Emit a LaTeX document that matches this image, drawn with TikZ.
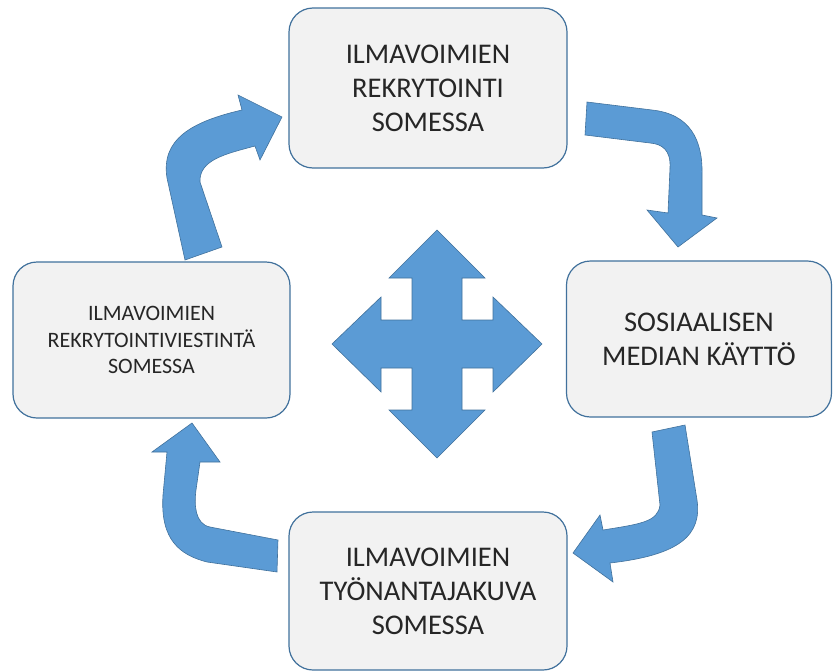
\documentclass[tikz,border=0pt]{standalone}
\usepackage{fontspec}
\setmainfont{Carlito}
\usetikzlibrary{positioning}
\definecolor{boxfill}{HTML}{F2F2F2}
\definecolor{boxline}{HTML}{41719C}
\definecolor{arrowfill}{HTML}{5B9BD5}
\definecolor{textgray}{HTML}{262626}

\begin{document}
\begin{tikzpicture}[x=1pt,y=-1pt,
	stage/.style={draw=boxline, line width=1.2pt, fill=boxfill, rounded corners=24pt, align=center, text=textgray, inner sep=0pt, font=\fontsize{28.5}{34}\selectfont},
	bigarrow/.style={fill=arrowfill, draw=boxline, line width=0.6pt, line join=miter}]
	\useasboundingbox (0,0) rectangle (833,672);

	% curved arrows round the cycle
	\path[bigarrow] (185,260) -- (167,178) .. controls (161,140) and (190,122) .. (242,110) -- (238,95) -- (282,117) -- (260,160) -- (255,146) .. controls (225,154) and (199,160) .. (200,182) -- (222,247) -- cycle;
	\path[bigarrow] (587,102) -- (652,110) .. controls (690,114) and (703,140) .. (702,175) -- (702,215) -- (717,218) -- (678,247) -- (647,210) -- (668,213) -- (670,168) .. controls (671,150) and (662,144) .. (650,143) -- (585,135) -- cycle;
	\path[bigarrow] (652,432) -- (685,425) -- (697,500) .. controls (702,535) and (680,555) .. (610,563) -- (613,582) -- (573,553) -- (600,515) -- (603,530) .. controls (640,524) and (658,522) .. (660,505) -- cycle;
	\path[bigarrow] (278,540) -- (210,527) .. controls (195,524) and (194,505) .. (196,490) -- (200,462) -- (220,462) -- (192,423) -- (152,452) -- (167,452) -- (163,495) .. controls (160,540) and (180,555) .. (207,562) -- (277,572) -- cycle;

	% four-way arrow
	\path[bigarrow] (437,230) -- (485,278) -- (462,278) -- (462,320) -- (493,320) -- (493,297) -- (542,344) -- (493,392) -- (493,368) -- (462,368) -- (462,410) -- (485,410) -- (437,458) -- (389,410) -- (412,410) -- (412,368) -- (381,368) -- (381,392) -- (332,344) -- (381,297) -- (381,320) -- (412,320) -- (412,278) -- (389,278) -- cycle;

	\node[stage, minimum width=278pt, minimum height=160pt] (recruit) at (428,88) {ILMAVOIMIEN\\REKRYTOINTI\\SOMESSA};
	\node[stage, minimum width=265pt, minimum height=156pt] (media) at (699,339) {SOSIAALISEN\\MEDIAN KÄYTTÖ};
	\node[stage, minimum width=278pt, minimum height=158pt] (brand) at (428,591) {ILMAVOIMIEN\\TYÖNANTAJAKUVA\\SOMESSA};
	\node[stage, minimum width=277pt, minimum height=156pt, font=\fontsize{22}{26.5}\selectfont] (message) at (151.5,340) {ILMAVOIMIEN\\REKRYTOINTIVIESTINTÄ\\SOMESSA};
\end{tikzpicture}
\end{document}
